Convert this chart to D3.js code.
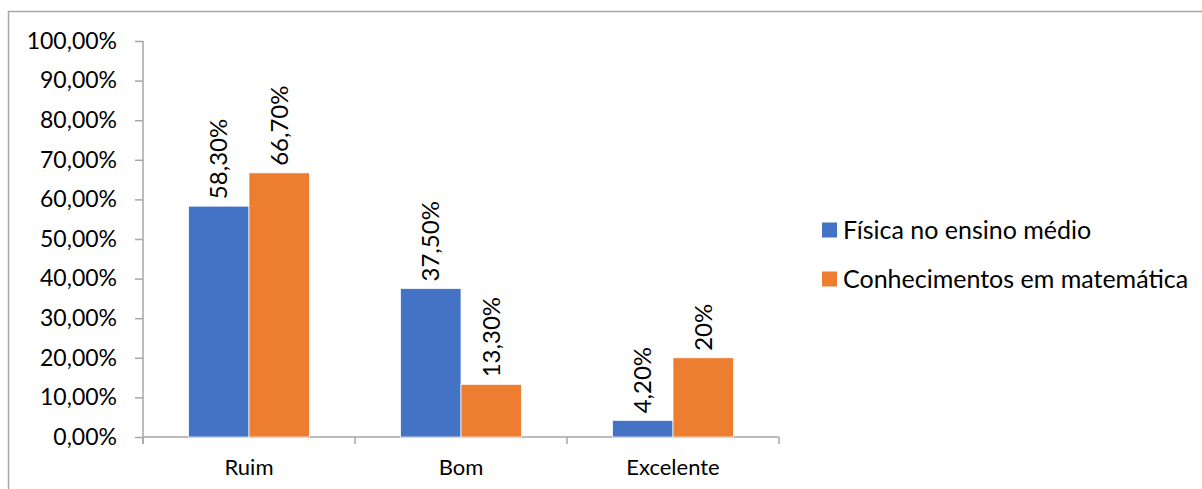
<!DOCTYPE html>
<html>
<head>
<meta charset="utf-8">
<script src="https://cdn.jsdelivr.net/npm/d3@7"></script>
<style>
  body { margin: 0; background: #fff; }
  text { font-family: Lato, "Open Sans", sans-serif; fill: #000; }
</style>
</head>
<body>
<div id="chart"></div>
<script>
// Data
const categories = ["Ruim", "Bom", "Excelente"];
const seriesNames = ["Física no ensino médio", "Conhecimentos em matemática"];
const fisica = [58.3, 37.5, 4.2];
const matematica = [66.7, 13.3, 20];
const valueLabels = [["58,30%", "37,50%", "4,20%"], ["66,70%", "13,30%", "20%"]];
const yTicks = [0, 10, 20, 30, 40, 50, 60, 70, 80, 90, 100];
const colors = ["#4472C4", "#ED7D31"];

const width = 1202;
const height = 489;
const margin = { top: 41, left: 143, right: 423, bottom: 52 };
const fontSize = 23;

const svg = d3.select("#chart")
  .append("svg")
  .attr("width", width)
  .attr("height", height);

// outer frame (right and bottom edges fall outside the picture)
svg.append("rect")
  .attr("x", 8.5)
  .attr("y", 11.5)
  .attr("width", width + 20)
  .attr("height", height + 20)
  .attr("fill", "none")
  .attr("stroke", "#a6a6a6")
  .attr("stroke-width", 1.5);

const g = svg.append("g")
  .attr("transform", `translate(${margin.left}, ${margin.top})`);

const innerW = width - margin.left - margin.right;
const innerH = height - margin.top - margin.bottom;

// Scales
const x0 = d3.scaleBand()
  .domain(categories)
  .range([0, innerW])
  .paddingInner(0)
  .paddingOuter(0);

const x1 = d3.scaleBand()
  .domain([0, 1])
  .range([45.5, x0.bandwidth() - 45.5])
  .padding(0);

const y = d3.scaleLinear()
  .domain([0, 100])
  .range([innerH, 0]);

// Y axis
const yAxis = g.append("g")
  .call(d3.axisLeft(y).tickValues(yTicks).tickSize(8).tickPadding(18)
    .tickFormat(d => d3.format(".2f")(d).replace(".", ",") + "%"));
yAxis.select(".domain").attr("stroke", "#a6a6a6").attr("stroke-width", 1.5)
  .attr("d", `M0,0V${innerH + 7}`);
yAxis.selectAll(".tick line").attr("stroke", "#a6a6a6").attr("stroke-width", 1.5);
yAxis.selectAll(".tick text").style("font-size", fontSize + "px")
  .style("font-family", "Lato, sans-serif").attr("fill", "#000");

// X axis
const xAxis = g.append("g")
  .attr("transform", `translate(0, ${innerH})`)
  .call(d3.axisBottom(x0).tickSize(0).tickPadding(22));
xAxis.select(".domain").attr("stroke", "#a6a6a6").attr("stroke-width", 1.5)
  .attr("d", `M0,0H${innerW}`);
xAxis.selectAll(".tick text").style("font-size", "22px")
  .style("font-family", "Lato, sans-serif").attr("fill", "#000");

// ticks between categories
const boundaries = categories.map(c => x0(c)).concat([innerW]);
g.append("g")
  .selectAll("line")
  .data(boundaries)
  .enter()
  .append("line")
  .attr("x1", d => d)
  .attr("x2", d => d)
  .attr("y1", innerH)
  .attr("y2", innerH + 7)
  .attr("stroke", "#a6a6a6")
  .attr("stroke-width", 1.5);

// Bars
const series = [fisica, matematica];
series.forEach((values, s) => {
  const bars = g.append("g");
  bars.selectAll("rect")
    .data(values)
    .enter()
    .append("rect")
    .attr("x", (d, i) => x0(categories[i]) + x1(s))
    .attr("y", d => y(d))
    .attr("width", x1.bandwidth())
    .attr("height", d => innerH - y(d))
    .attr("fill", colors[s])
    .attr("stroke", "#fff")
    .attr("stroke-width", 0.75);

  bars.selectAll("text")
    .data(values)
    .enter()
    .append("text")
    .attr("transform", (d, i) =>
      `translate(${x0(categories[i]) + x1(s) + x1.bandwidth() / 2}, ${y(d) - 7}) rotate(-90)`)
    .attr("dy", "0.35em")
    .attr("text-anchor", "start")
    .style("font-size", "24px")
    .text((d, i) => valueLabels[s][i]);
});

// Legend
const legend = svg.append("g")
  .attr("transform", "translate(822, 230)");
seriesNames.forEach((name, i) => {
  const row = legend.append("g").attr("transform", `translate(0, ${i * 49})`);
  row.append("rect")
    .attr("x", 0)
    .attr("y", -7.5)
    .attr("width", 15)
    .attr("height", 15)
    .attr("fill", colors[i]);
  row.append("text")
    .attr("x", 21)
    .attr("dy", "0.35em")
    .style("font-size", "25px")
    .text(name);
});
</script>
</body>
</html>
